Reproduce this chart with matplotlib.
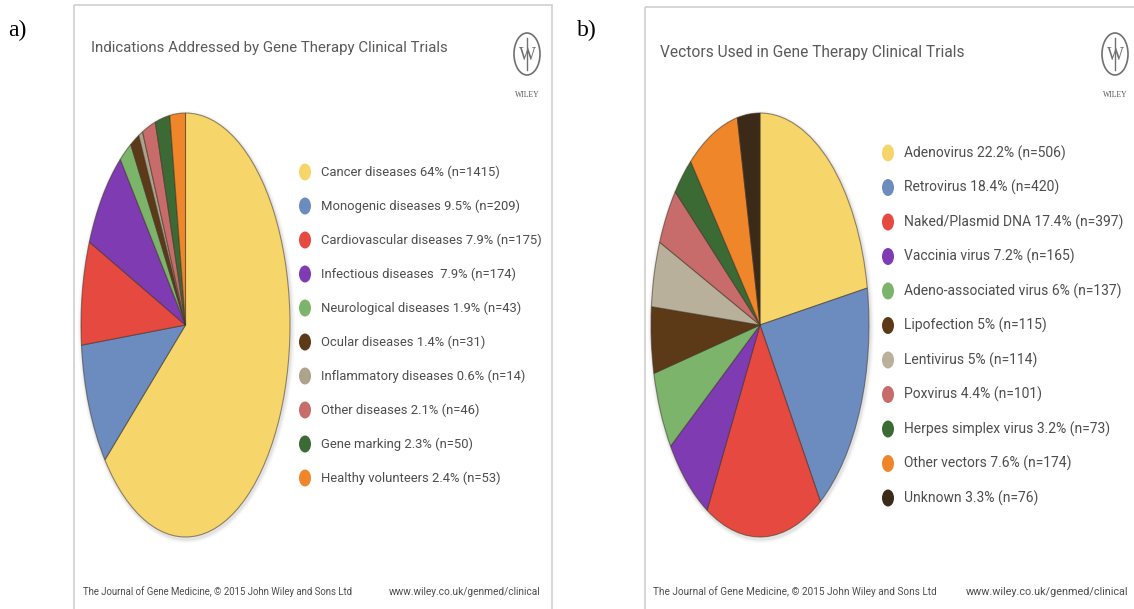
import matplotlib.pyplot as plt
from matplotlib.patches import Ellipse, Rectangle

W, H = 1134, 609

# panel a data
a_names = ['Cancer diseases', 'Monogenic diseases', 'Cardiovascular diseases',
           'Infectious diseases ', 'Neurological diseases', 'Ocular diseases',
           'Inflammatory diseases', 'Other diseases', 'Gene marking',
           'Healthy volunteers']
a_pcts = ['64%', '9.5%', '7.9%', '7.9%', '1.9%', '1.4%', '0.6%', '2.1%', '2.3%', '2.4%']
a_counts = [1415, 209, 175, 174, 43, 31, 14, 46, 50, 53]

# panel b data
b_names = ['Adenovirus', 'Retrovirus', 'Naked/Plasmid DNA', 'Vaccinia virus',
           'Adeno-associated virus', 'Lipofection', 'Lentivirus', 'Poxvirus',
           'Herpes simplex virus', 'Other vectors', 'Unknown']
b_pcts = ['22.2%', '18.4%', '17.4%', '7.2%', '6%', '5%', '5%', '4.4%', '3.2%', '7.6%', '3.3%']
b_counts = [506, 420, 397, 165, 137, 115, 114, 101, 73, 174, 76]

a_colors = ['#F6D66B', '#6C8CC0', '#E5493F', '#7E3BB2', '#7DB46C',
            '#5C3A18', '#ADA28C', '#C86B6B', '#3C6A35', '#F0862A']
b_colors = ['#F6D66B', '#6C8CC0', '#E5493F', '#7E3BB2', '#7DB46C',
            '#5C3A18', '#B9B09C', '#C86B6B', '#3C6A35', '#F0862A', '#3B2A18']

font = ['Roboto', 'DejaVu Sans']
txt_col = '#4d4d4d'

fig = plt.figure(figsize=(W / 100, H / 100), dpi=100)
fig.patch.set_facecolor('white')

# overlay axes in pixel coordinates for frames, text and legend dots
bg = fig.add_axes([0, 0, 1, 1])
bg.set_xlim(0, W)
bg.set_ylim(H, 0)
bg.axis('off')


def panel(left, right, top, title, title_x, title_y, title_fs,
          names, pcts, counts, colors, pie_box,
          leg_x, leg_y0, leg_dy, leg_fs, logo_x, label, label_x,
          foot_l, foot_r, foot_fs):
    # frame
    bg.add_patch(Rectangle((left, top), right - left, 620, fill=False,
                           edgecolor='#cfcfcf', lw=1.2))
    bg.text(label_x, 30, label, fontsize=17, family='Liberation Serif',
            va='center', ha='left', color='black')
    bg.text(title_x, title_y, title, fontsize=title_fs, family=font,
            va='center', ha='left', color='#5a5a5a')

    # wiley logo
    bg.add_patch(Ellipse((logo_x, 54), 26, 42, fill=False,
                         edgecolor='#707070', lw=1.2))
    bg.text(logo_x, 56, 'W', fontsize=13, family='Liberation Serif',
            ha='center', va='center', color='#707070')
    bg.plot([logo_x, logo_x], [38, 70], color='#707070', lw=1)
    bg.text(logo_x, 95, 'WILEY', fontsize=5.5, family='Liberation Serif',
            ha='center', va='center', color='#555555')

    # footer
    bg.text(foot_l, 592, 'The Journal of Gene Medicine, \u00a9 2015 John Wiley and Sons Ltd',
            fontsize=foot_fs[0], family=font, va='center', ha='left', color=txt_col)
    bg.text(foot_r, 592, 'www.wiley.co.uk/genmed/clinical',
            fontsize=foot_fs[1], family=font, va='center', ha='right', color=txt_col)

    # pie with a soft shadow
    x0, y0, x1, y1 = pie_box
    cx, cy = (x0 + x1) / 2, (y0 + y1) / 2
    for k, a in [(8, 0.05), (5, 0.07), (3, 0.09)]:
        bg.add_patch(Ellipse((cx + 1, cy + 2), x1 - x0 + k, y1 - y0 + k,
                             facecolor='#777777', edgecolor='none', alpha=a))
    ax = fig.add_axes([x0 / W, 1 - y1 / H, (x1 - x0) / W, (y1 - y0) / H])
    ax.pie(counts, colors=colors, startangle=90, counterclock=False, radius=1,
           wedgeprops=dict(edgecolor=(0.25, 0.2, 0.15, 0.55), linewidth=0.8))
    ax.set_xlim(-1.0, 1.0)
    ax.set_ylim(-1.0, 1.0)
    ax.set_aspect('auto')
    ax.axis('off')

    # legend
    for i, (n, p, c, col) in enumerate(zip(names, pcts, counts, colors)):
        y = leg_y0 + leg_dy * i
        bg.add_patch(Ellipse((leg_x, y), 12, 17, facecolor=col, edgecolor='none'))
        bg.text(leg_x + 16, y, f'{n} {p} (n={c})', fontsize=leg_fs, family=font,
                va='center', ha='left', color=txt_col)


panel(74, 552, 5, 'Indications Addressed by Gene Therapy Clinical Trials',
      91, 48, 10.8, a_names, a_pcts, a_counts, a_colors, (81, 113, 290, 537),
      305, 172, 34, 9.4, 527, 'a)', 8, 83, 540, (6.9, 7.3))
panel(645, 1160, 7, 'Vectors Used in Gene Therapy Clinical Trials',
      660, 53, 11.2, b_names, b_pcts, b_counts, b_colors, (651, 113, 869, 537),
      888, 153, 34.5, 10, 1115, 'b)', 577, 653, 1128, (7.2, 7.8))

fig.savefig('out.png', dpi=100, facecolor='white')
